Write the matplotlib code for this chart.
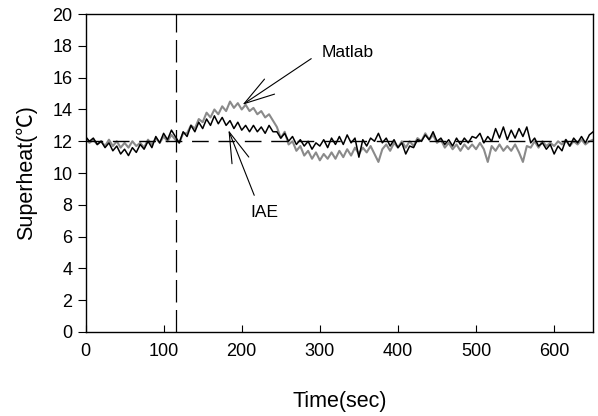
import numpy as np
import matplotlib
matplotlib.use("Agg")
import matplotlib.pyplot as plt

plt.rcParams['font.family'] = ['Liberation Sans', 'Noto Sans CJK SC', 'DejaVu Sans']

# time samples (sec)
time = np.arange(0, 651, 5)

# IAE controller (black)
iae = [12.3, 12.0, 12.2, 11.8, 12.0, 11.6, 11.9, 11.4, 11.7, 11.2,
       11.5, 11.1, 11.6, 11.3, 11.8, 11.5, 12.0, 11.6, 12.3, 11.9,
       12.5, 12.1, 12.7, 12.3, 11.9, 12.6, 12.3, 13.0, 12.6, 13.2,
       12.8, 13.4, 13.0, 13.6, 13.1, 13.5, 13.0, 13.3, 12.8, 13.2,
       12.7, 13.0, 12.6, 13.0, 12.6, 12.9, 12.5, 13.0, 12.6, 12.6,
       12.2, 12.5, 12.0, 12.3, 11.8, 12.1, 11.7, 12.0, 11.5, 11.9,
       11.7, 12.1, 11.6, 12.2, 11.8, 12.3, 11.8, 12.4, 11.9, 12.2,
       11.0, 12.1, 11.7, 12.2, 12.0, 12.5, 11.9, 12.2, 11.7, 12.1,
       11.6, 11.9, 11.2, 11.7, 11.6, 12.1, 12.0, 12.4, 12.1, 12.6,
       12.0, 12.2, 11.8, 12.1, 11.7, 12.2, 11.8, 12.2, 11.9, 12.3,
       12.2, 12.5, 11.9, 12.3, 12.0, 12.8, 12.2, 12.9, 12.1, 12.7,
       12.2, 12.8, 12.3, 12.9, 11.9, 12.2, 11.7, 11.9, 11.5, 11.8,
       11.2, 11.7, 11.4, 12.1, 11.7, 12.2, 11.9, 12.3, 11.9, 12.4,
       12.6]

# Matlab controller (gray)
matlab = [12.2, 11.9, 12.1, 11.8, 12.0, 11.7, 12.1, 11.7, 12.0, 11.6,
          11.9, 11.6, 12.0, 11.7, 11.9, 11.6, 12.1, 11.8, 12.2, 11.9,
          12.3, 12.0, 12.4, 12.1, 11.9, 12.5, 12.5, 13.0, 12.8, 13.4,
          13.2, 13.8, 13.5, 14.0, 13.7, 14.2, 13.9, 14.5, 14.1, 14.4,
          14.0, 14.3, 13.9, 14.1, 13.7, 13.9, 13.5, 13.7, 13.3, 12.9,
          12.2, 12.6, 11.8, 12.0, 11.4, 11.7, 11.1, 11.4, 10.9, 11.3,
          10.8, 11.2, 10.9, 11.3, 10.9, 11.4, 11.0, 11.5, 11.1, 11.6,
          11.2, 11.6, 11.3, 11.7, 11.2, 10.7, 11.5, 11.8, 11.4, 11.9,
          11.6, 12.0, 11.6, 12.0, 11.7, 12.2, 12.0, 12.5, 12.1, 12.4,
          11.9, 12.1, 11.6, 11.9, 11.5, 11.8, 11.4, 11.8, 11.5, 11.8,
          11.5, 11.9, 11.5, 10.7, 11.7, 11.4, 11.8, 11.4, 11.7, 11.4,
          11.8, 11.3, 10.7, 11.7, 11.6, 12.0, 11.6, 12.0, 11.7, 11.9,
          11.7, 12.0, 11.8, 12.1, 11.7, 12.0, 11.8, 12.1, 11.8, 12.0,
          12.1]

setpoint = 12
step_time = 116
xticks = [0, 100, 200, 300, 400, 500, 600]
yticks = [0, 2, 4, 6, 8, 10, 12, 14, 16, 18, 20]

fig = plt.figure(figsize=(5.98, 4.16), dpi=100)
ax = fig.add_axes([0.143, 0.202, 0.849, 0.764])

ax.plot(time, matlab, color='#8a8a8a', lw=1.5, zorder=2)
ax.plot(time, iae, color='black', lw=1.1, zorder=3)
ax.axhline(setpoint, color='black', lw=1.0, dashes=(12, 7), zorder=4)
ax.axvline(step_time, color='black', lw=0.9, dashes=(18, 6), zorder=4)

ax.set_xlim(0, 650)
ax.set_ylim(0, 20)
ax.set_xticks(xticks)
ax.set_yticks(yticks)
ax.tick_params(axis='x', direction='in', length=5, labelsize=13, pad=8, top=False)
ax.tick_params(axis='y', direction='out', length=6, labelsize=13, right=False)
for s in ax.spines.values():
    s.set_linewidth(1.0)

ax.set_xlabel('Time(sec)', fontsize=15.5, labelpad=22)
ax.set_ylabel('Superheat(℃)', fontsize=15.5, labelpad=11)

arrow_kw = dict(arrowstyle='->,head_length=22,head_width=6.5', color='black',
                lw=0.8, shrinkA=0, shrinkB=0, mutation_scale=1)
ax.annotate('', xy=(201, 14.3), xytext=(289, 17.2), arrowprops=arrow_kw)
ax.text(302, 17.6, 'Matlab', fontsize=12.5, ha='left', va='center')
ax.annotate('', xy=(183, 12.7), xytext=(216, 8.6), arrowprops=arrow_kw)
ax.text(229, 7.5, 'IAE', fontsize=12.5, ha='center', va='center')

fig.savefig('out.png', dpi=100)
